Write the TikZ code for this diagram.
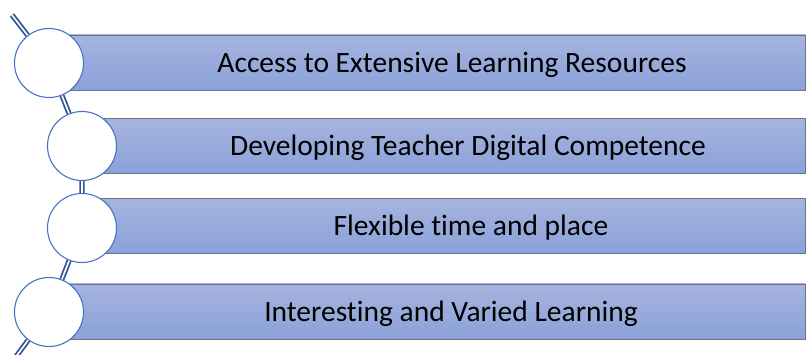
\documentclass[tikz,border=0pt]{standalone}
\usepackage{fontspec}
\setmainfont{Carlito}[Ligatures=NoCommon]
\usetikzlibrary{positioning,calc}

\definecolor{barTop}{RGB}{166,180,223}
\definecolor{barBottom}{RGB}{138,161,216}
\definecolor{barEdge}{RGB}{110,116,130}
\definecolor{ringBlue}{RGB}{68,114,196}
\definecolor{linkBlue}{RGB}{47,85,151}

\begin{document}
\begin{tikzpicture}[
            x=1pt, y=-1pt, % work in pixel-like units, y going down
            bar/.style={
                draw=barEdge,
                line width=0.9pt,
                rectangle,
                top color=barTop,
                bottom color=barBottom,
                minimum height=55pt,
                anchor=west,
                inner sep=0pt
            },
            ring/.style={
                circle,
                draw=ringBlue,
                line width=1.1pt,
                fill=white,
                minimum size=69pt,
                inner sep=0pt
            },
            link/.style={
                draw=linkBlue,
                line width=1.8pt,
                double=white,
                double distance=1.6pt
            },
            label/.style={
                font=\fontsize{29.5}{34}\selectfont,
                text=black
            }
        ]
        \useasboundingbox (0,0) rectangle (806,355);

        % bars behind the circles
        \node[bar, minimum width=756pt] (b1) at (49,62.5) {};
        \node[bar, minimum width=723pt] (b2) at (82,146) {};
        \node[bar, minimum width=723pt] (b3) at (82,226) {};
        \node[bar, minimum width=756pt] (b4) at (49,311.5) {};

        \node[label] (t1) at (452,64.5) {Access to Extensive Learning Resources};
        \node[label] (t2) at (468,148) {Developing Teacher Digital Competence};
        \node[label] (t3) at (471,228) {Flexible time and place};
        \node[label] (t4) at (451,313.5) {Interesting and Varied Learning};

        % circles along the chain
        \node[ring] (c1) at (49,63) {};
        \node[ring] (c2) at (82,146) {};
        \node[ring] (c3) at (82,228) {};
        \node[ring] (c4) at (49,312) {};

        \coordinate (start) at (12,15);
        \coordinate (finish) at (12,362);

        \path[link]
            (start) -- (c1)
            (c1) -- (c2)
            (c2) -- (c3)
            (c3) -- (c4)
            (c4) -- (finish);
    \end{tikzpicture}
\end{document}
